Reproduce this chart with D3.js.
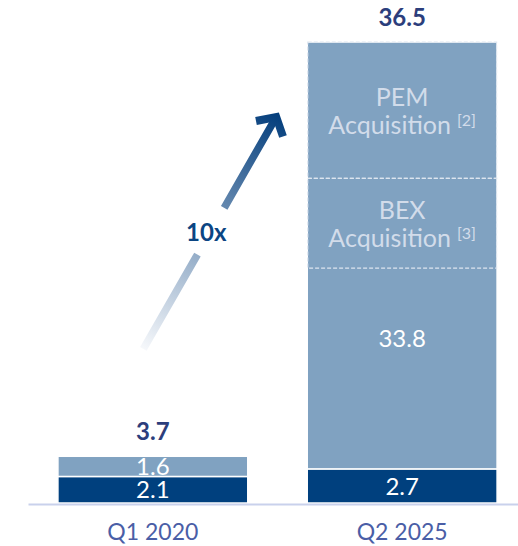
<!DOCTYPE html>
<html>
<head>
<meta charset="utf-8">
<script src="https://cdn.jsdelivr.net/npm/d3@7"></script>
<style>
  html, body { margin: 0; padding: 0; background: #fff; }
  svg { display: block; font-family: Lato, "Open Sans", sans-serif; }
</style>
</head>
<body>
<div id="chart"></div>
<script>
// Chart values
const categories = ["Q1 2020", "Q2 2025"]
const baseValues = [2.1, 2.7]      // dark segment
const topValues = [1.6, 33.8]      // light segment
const totals = [3.7, 36.5]

// acquisitions shown as dashed boxes at the top of the Q2 bar
const acqNames = ["PEM", "BEX"]
const acqNotes = ["[2]", "[3]"]
const acqValues = [10.8, 7.1]

const growthLabel = "10x"

const width = 518
const height = 546
const colors = { dark: "#00407e", light: "#80a2c1", total: "#2c3e7c", axis: "#4a5ea6" }

const x = d3.scaleBand().domain(categories).range([28, 527]).paddingInner(0.2385).paddingOuter(0.12)
const y = d3.scaleLinear().domain([0, d3.max(totals)]).range([503, 42])

const svg = d3.select("#chart").append("svg")
    .attr("width", width)
    .attr("height", height)

const defs = svg.append("defs")

// Stacked segments
const rows = categories.map((c, i) => ({ cat: c, base: baseValues[i], top: topValues[i], total: totals[i] }))

const bars = svg.append("g")
bars.selectAll("rect.base")
    .data(rows)
    .join("rect")
    .attr("class", "base")
    .attr("x", d => x(d.cat))
    .attr("width", x.bandwidth())
    .attr("y", d => y(d.base))
    .attr("height", d => y(0) - y(d.base))
    .attr("fill", colors.dark)
    .attr("stroke", "#fff")
    .attr("stroke-width", 1.5)

bars.selectAll("rect.top")
    .data(rows)
    .join("rect")
    .attr("class", "top")
    .attr("x", d => x(d.cat))
    .attr("width", x.bandwidth())
    .attr("y", d => y(d.base + d.top))
    .attr("height", d => y(d.base) - y(d.base + d.top))
    .attr("fill", colors.light)
    .attr("stroke", "#fff")
    .attr("stroke-width", 1.5)

// Segment labels
const segLabels = svg.append("g")
    .attr("text-anchor", "middle")
    .attr("fill", "#fff")
    .attr("font-size", 24)
    .attr("font-weight", 400)

segLabels.selectAll("text.base")
    .data(rows)
    .join("text")
    .attr("x", d => x(d.cat) + x.bandwidth() / 2)
    .attr("y", d => y(d.base / 2))
    .attr("dy", "0.36em")
    .text(d => d.base.toFixed(1))

// the small light segment is labelled at its middle, the big one higher up
const acqTotal = d3.sum(acqValues)
segLabels.selectAll("text.top")
    .data(rows)
    .join("text")
    .attr("x", d => x(d.cat) + x.bandwidth() / 2)
    .attr("y", d => d.top > acqTotal ? y(d.base + (d.top - acqTotal) * 0.65) : y(d.base + d.top / 2))
    .attr("dy", "0.36em")
    .text(d => d.top.toFixed(1))

// Totals above bars
svg.append("g")
    .selectAll("text")
    .data(rows)
    .join("text")
    .attr("x", d => x(d.cat) + x.bandwidth() / 2)
    .attr("y", d => y(d.total) - 16.5)
    .attr("text-anchor", "middle")
    .attr("font-size", 24)
    .attr("font-weight", 700)
    .attr("fill", colors.total)
    .text(d => d.total.toFixed(1))

// Dashed acquisition boxes, stacked down from the top of Q2
const q2 = categories[1]
const q2Total = totals[1]
let cum = q2Total
const acq = acqNames.map((n, i) => {
    const d = { name: n, note: acqNotes[i], hi: cum, lo: cum - acqValues[i] }
    cum -= acqValues[i]
    return d
})

const acqG = svg.append("g")
acqG.selectAll("rect")
    .data(acq)
    .join("rect")
    .attr("x", x(q2) + 0.5)
    .attr("width", x.bandwidth() - 1)
    .attr("y", d => y(d.hi))
    .attr("height", d => y(d.lo) - y(d.hi))
    .attr("fill", "none")
    .attr("stroke", "#dde5ef")
    .attr("stroke-width", 1.2)
    .attr("stroke-dasharray", "4 2")

const acqText = acqG.selectAll("text")
    .data(acq)
    .join("text")
    .attr("text-anchor", "middle")
    .attr("fill", "#d2dcea")
    .attr("font-size", 25)
    .attr("font-weight", 400)

acqText.append("tspan")
    .attr("x", x(q2) + x.bandwidth() / 2)
    .attr("y", d => (y(d.hi) + y(d.lo)) / 2 - 4.5)
    .text(d => d.name)

acqText.append("tspan")
    .attr("x", x(q2) + x.bandwidth() / 2)
    .attr("y", d => (y(d.hi) + y(d.lo)) / 2 + 24)
    .text("Acquisition")
acqText.append("tspan")
    .attr("dx", 6)
    .attr("dy", -8)
    .attr("font-size", 16)
    .text(d => d.note)

// Growth arrow from Q1 up towards Q2
const q1 = categories[0]
const tail = [x(q1) + x.bandwidth() * 0.45, y(12.2)]
const tip = [x(q2) - 30, y(30.7)]
const len = Math.hypot(tip[0] - tail[0], tip[1] - tail[1])
const ux = (tip[0] - tail[0]) / len
const uy = (tip[1] - tail[1]) / len

const grad = defs.append("linearGradient")
    .attr("id", "arrowGrad")
    .attr("gradientUnits", "userSpaceOnUse")
    .attr("x1", tail[0]).attr("y1", tail[1])
    .attr("x2", tip[0]).attr("y2", tip[1])
grad.append("stop").attr("offset", 0).attr("stop-color", "#f6f8fb")
grad.append("stop").attr("offset", 1).attr("stop-color", "#053f7d")

const shaftEnd = len - 3
const gapStart = len * 0.404
const gapEnd = len * 0.604
svg.append("line")
    .attr("x1", tail[0]).attr("y1", tail[1])
    .attr("x2", tail[0] + ux * shaftEnd).attr("y2", tail[1] + uy * shaftEnd)
    .attr("stroke", "url(#arrowGrad)")
    .attr("stroke-width", 7.5)
    .attr("stroke-dasharray", `${gapStart} ${gapEnd - gapStart} ${len}`)

// chevron head
const arm = 22
const rot = (a) => {
    const bx = -ux, by = -uy
    const c = Math.cos(a), s = Math.sin(a)
    return [tip[0] + arm * (bx * c - by * s), tip[1] + arm * (bx * s + by * c)]
}
const headPts = [rot(Math.PI / 4), [tip[0] - ux * 2, tip[1] - uy * 2], rot(-Math.PI / 4)]
svg.append("path")
    .attr("d", d3.line()(headPts))
    .attr("fill", "none")
    .attr("stroke", "url(#arrowGrad)")
    .attr("stroke-width", 8)
    .attr("stroke-linejoin", "miter")

svg.append("text")
    .attr("x", tail[0] + ux * len * 0.5 - 4)
    .attr("y", tail[1] + uy * len * 0.5)
    .attr("dy", "0.36em")
    .attr("text-anchor", "middle")
    .attr("font-size", 24)
    .attr("font-weight", 700)
    .attr("fill", "#0b4583")
    .text(growthLabel)

// Category axis
const axis = svg.append("g")
    .attr("transform", `translate(0,${y(0) + 1})`)
    .call(d3.axisBottom(x).tickSize(0).tickPadding(20))
axis.select(".domain")
    .attr("stroke", "#c9d1ec")
    .attr("stroke-width", 2)
axis.selectAll(".tick text")
    .attr("font-family", "Lato, 'Open Sans', sans-serif")
    .attr("font-size", 23)
    .attr("font-weight", 400)
    .attr("fill", colors.axis)
</script>
</body>
</html>
